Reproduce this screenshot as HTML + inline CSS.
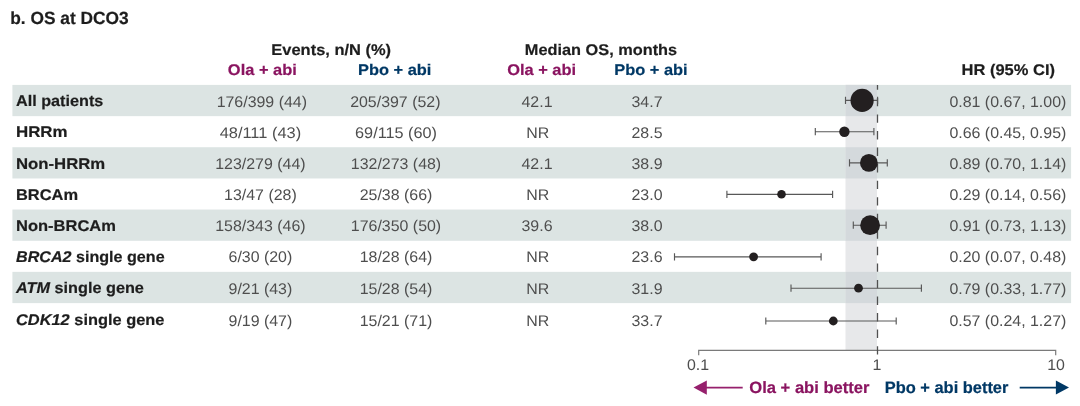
<!DOCTYPE html>
<html><head><meta charset="utf-8"><title>OS at DCO3</title>
<style>
html,body{margin:0;padding:0;background:#fff;}
body{width:1080px;height:406px;overflow:hidden;}
svg{display:block;font-family:"Liberation Sans",sans-serif;text-rendering:geometricPrecision;}
.h{font-weight:bold;font-size:15.5px;stroke-width:0.2px;}
.bf{font-size:16.4px;}
.d{font-size:15.4px;fill:#4e4e4e;}
</style></head><body>
<svg width="1080" height="406" viewBox="0 0 1080 406">

<rect x="12.4" y="84.90" width="1058.7" height="31.25" fill="#dce4e3"/>
<rect x="12.4" y="147.22" width="1058.7" height="31.25" fill="#dce4e3"/>
<rect x="12.4" y="209.54" width="1058.7" height="31.25" fill="#dce4e3"/>
<rect x="12.4" y="271.86" width="1058.7" height="31.25" fill="#dce4e3"/>
<rect x="845.5" y="84.9" width="31.5" height="265.40" fill="#e7e8ea"/>
<rect x="845.5" y="84.90" width="31.5" height="31.25" fill="#d4d9dc"/>
<rect x="845.5" y="147.22" width="31.5" height="31.25" fill="#d4d9dc"/>
<rect x="845.5" y="209.54" width="31.5" height="31.25" fill="#d4d9dc"/>
<rect x="845.5" y="271.86" width="31.5" height="31.25" fill="#d4d9dc"/>
<path d="M698.7 355.3V350.3H1055.7V355.3" fill="none" stroke="#7a7a7a" stroke-width="1.2"/>
<path d="M877.5 85V355.3" fill="none" stroke="#505050" stroke-width="1.3" stroke-dasharray="8.4 8.15" stroke-dashoffset="3.65"/>
<path d="M845.5 96.8V104.0M877.6 96.8V104.0M845.5 100.4H877.6" fill="none" stroke="#585858" stroke-width="1.15"/>
<circle cx="862.1" cy="100.4" r="11.6" fill="#231f20"/>
<path d="M815.3 128.1V135.3M873.9 128.1V135.3M815.3 131.7H873.9" fill="none" stroke="#585858" stroke-width="1.15"/>
<circle cx="844.4" cy="131.7" r="5.2" fill="#231f20"/>
<path d="M849.5 159.3V166.5M887.3 159.3V166.5M849.5 162.9H887.3" fill="none" stroke="#585858" stroke-width="1.15"/>
<circle cx="868.9" cy="162.9" r="8.9" fill="#231f20"/>
<path d="M726.9 190.7V197.9M832.6 190.7V197.9M726.9 194.3H832.6" fill="none" stroke="#585858" stroke-width="1.15"/>
<circle cx="781.5" cy="194.3" r="4.3" fill="#231f20"/>
<path d="M853.3 221.6V228.8M886.1 221.6V228.8M853.3 225.2H886.1" fill="none" stroke="#585858" stroke-width="1.15"/>
<circle cx="870.1" cy="225.2" r="9.9" fill="#231f20"/>
<path d="M674.5 253.2V260.4M821.1 253.2V260.4M674.5 256.8H821.1" fill="none" stroke="#585858" stroke-width="1.15"/>
<circle cx="753.6" cy="256.8" r="4.4" fill="#231f20"/>
<path d="M791.0 284.6V291.8M921.4 284.6V291.8M791.0 288.2H921.4" fill="none" stroke="#585858" stroke-width="1.15"/>
<circle cx="858.5" cy="288.2" r="4.4" fill="#231f20"/>
<path d="M765.8 317.4V324.6M896.2 317.4V324.6M765.8 321.0H896.2" fill="none" stroke="#585858" stroke-width="1.15"/>
<circle cx="833.3" cy="321.0" r="4.4" fill="#231f20"/>
<path d="M706 387.6H742.7" stroke="#96206d" stroke-width="1.8" fill="none"/><path d="M693.5 387.6L706.8 380.5V394.7Z" fill="#96206d"/>
<path d="M1019.7 387.6H1056.5" stroke="#003865" stroke-width="1.8" fill="none"/><path d="M1069 387.6L1055.9 380.6V394.6Z" fill="#003865"/>
<text transform="translate(10.2 24.1) scale(0.985 1)" font-weight="bold" font-size="17.6" fill="#1d1d1d" stroke="#1d1d1d" stroke-width="0.2">b. OS at DCO3</text>
<text class="h" transform="translate(331.2 55.00) scale(1.0616 1)" text-anchor="middle" fill="#1d1d1d" stroke="#1d1d1d">Events, n/N (%)</text>
<text class="h" transform="translate(601 55.00) scale(1.0529 1)" text-anchor="middle" fill="#1d1d1d" stroke="#1d1d1d">Median OS, months</text>
<text class="h" transform="translate(262.3 75.10) scale(1.0590 1)" text-anchor="middle" fill="#8a1460" stroke="#8a1460">Ola + abi</text>
<text class="h" transform="translate(394.7 75.10) scale(1.0581 1)" text-anchor="middle" fill="#003865" stroke="#003865">Pbo + abi</text>
<text class="h" transform="translate(541.6 75.10) scale(1.0590 1)" text-anchor="middle" fill="#8a1460" stroke="#8a1460">Ola + abi</text>
<text class="h" transform="translate(651 75.10) scale(1.0581 1)" text-anchor="middle" fill="#003865" stroke="#003865">Pbo + abi</text>
<text class="h" transform="translate(1055 75.10) scale(1.0638 1)" text-anchor="end" fill="#1d1d1d" stroke="#1d1d1d">HR (95% CI)</text>
<text class="h" transform="translate(16.0 106.30) scale(1.0452 1)" text-anchor="start" fill="#1d1d1d" stroke="#1d1d1d">All patients</text>
<text class="d" transform="translate(261.8 106.60) scale(1.0350 1)" text-anchor="middle">176/399 (44)</text>
<text class="d" transform="translate(395.3 106.60) scale(1.0350 1)" text-anchor="middle">205/397 (52)</text>
<text class="d" transform="translate(537 106.60) scale(1.0350 1)" text-anchor="middle">42.1</text>
<text class="d" transform="translate(647 106.60) scale(1.0350 1)" text-anchor="middle">34.7</text>
<text class="d" transform="translate(1066.3 106.60) scale(1.0350 1)" text-anchor="end">0.81 (0.67, 1.00)</text>
<text class="h" transform="translate(16.0 137.46) scale(1.0887 1)" text-anchor="start" fill="#1d1d1d" stroke="#1d1d1d">HRRm</text>
<text class="d" transform="translate(260.4 137.76) scale(1.0660 1)" text-anchor="middle">48/111 (43)</text>
<text class="d" transform="translate(396.0 137.76) scale(1.0557 1)" text-anchor="middle">69/115 (60)</text>
<text class="d" transform="translate(537.7 137.76) scale(1.0350 1)" text-anchor="middle">NR</text>
<text class="d" transform="translate(647 137.76) scale(1.0350 1)" text-anchor="middle">28.5</text>
<text class="d" transform="translate(1066.3 137.76) scale(1.0350 1)" text-anchor="end">0.66 (0.45, 0.95)</text>
<text class="h" transform="translate(16.0 168.62) scale(1.0790 1)" text-anchor="start" fill="#1d1d1d" stroke="#1d1d1d">Non-HRRm</text>
<text class="d" transform="translate(260.4 168.92) scale(1.0350 1)" text-anchor="middle">123/279 (44)</text>
<text class="d" transform="translate(396.0 168.92) scale(1.0350 1)" text-anchor="middle">132/273 (48)</text>
<text class="d" transform="translate(537 168.92) scale(1.0350 1)" text-anchor="middle">42.1</text>
<text class="d" transform="translate(647 168.92) scale(1.0350 1)" text-anchor="middle">38.9</text>
<text class="d" transform="translate(1066.3 168.92) scale(1.0350 1)" text-anchor="end">0.89 (0.70, 1.14)</text>
<text class="h" transform="translate(16.0 199.78) scale(1.0606 1)" text-anchor="start" fill="#1d1d1d" stroke="#1d1d1d">BRCAm</text>
<text class="d" transform="translate(260.4 200.08) scale(1.0350 1)" text-anchor="middle">13/47 (28)</text>
<text class="d" transform="translate(396.0 200.08) scale(1.0350 1)" text-anchor="middle">25/38 (66)</text>
<text class="d" transform="translate(537.7 200.08) scale(1.0350 1)" text-anchor="middle">NR</text>
<text class="d" transform="translate(647 200.08) scale(1.0350 1)" text-anchor="middle">23.0</text>
<text class="d" transform="translate(1066.3 200.08) scale(1.0350 1)" text-anchor="end">0.29 (0.14, 0.56)</text>
<text class="h" transform="translate(16.0 230.94) scale(1.0645 1)" text-anchor="start" fill="#1d1d1d" stroke="#1d1d1d">Non-BRCAm</text>
<text class="d" transform="translate(260.4 231.24) scale(1.0350 1)" text-anchor="middle">158/343 (46)</text>
<text class="d" transform="translate(396.0 231.24) scale(1.0350 1)" text-anchor="middle">176/350 (50)</text>
<text class="d" transform="translate(537 231.24) scale(1.0350 1)" text-anchor="middle">39.6</text>
<text class="d" transform="translate(647 231.24) scale(1.0350 1)" text-anchor="middle">38.0</text>
<text class="d" transform="translate(1066.3 231.24) scale(1.0350 1)" text-anchor="end">0.91 (0.73, 1.13)</text>
<text class="h" transform="translate(16.0 262.10) scale(1.0394 1)" text-anchor="start" fill="#1d1d1d" stroke="#1d1d1d"><tspan font-style="italic">BRCA2</tspan> single gene</text>
<text class="d" transform="translate(260.4 262.40) scale(1.0350 1)" text-anchor="middle">6/30 (20)</text>
<text class="d" transform="translate(396.0 262.40) scale(1.0350 1)" text-anchor="middle">18/28 (64)</text>
<text class="d" transform="translate(537.7 262.40) scale(1.0350 1)" text-anchor="middle">NR</text>
<text class="d" transform="translate(647 262.40) scale(1.0350 1)" text-anchor="middle">23.6</text>
<text class="d" transform="translate(1066.3 262.40) scale(1.0350 1)" text-anchor="end">0.20 (0.07, 0.48)</text>
<text class="h" transform="translate(16.0 293.26) scale(1.0481 1)" text-anchor="start" fill="#1d1d1d" stroke="#1d1d1d"><tspan font-style="italic">ATM</tspan> single gene</text>
<text class="d" transform="translate(260.4 293.56) scale(1.0350 1)" text-anchor="middle">9/21 (43)</text>
<text class="d" transform="translate(396.0 293.56) scale(1.0350 1)" text-anchor="middle">15/28 (54)</text>
<text class="d" transform="translate(537.7 293.56) scale(1.0350 1)" text-anchor="middle">NR</text>
<text class="d" transform="translate(647 293.56) scale(1.0350 1)" text-anchor="middle">31.9</text>
<text class="d" transform="translate(1066.3 293.56) scale(1.0350 1)" text-anchor="end">0.79 (0.33, 1.77)</text>
<text class="h" transform="translate(16.0 325.27) scale(1.0568 1)" text-anchor="start" fill="#1d1d1d" stroke="#1d1d1d"><tspan font-style="italic">CDK12</tspan> single gene</text>
<text class="d" transform="translate(260.4 325.57) scale(1.0350 1)" text-anchor="middle">9/19 (47)</text>
<text class="d" transform="translate(396.0 325.57) scale(1.0350 1)" text-anchor="middle">15/21 (71)</text>
<text class="d" transform="translate(537.7 325.57) scale(1.0350 1)" text-anchor="middle">NR</text>
<text class="d" transform="translate(647 325.57) scale(1.0350 1)" text-anchor="middle">33.7</text>
<text class="d" transform="translate(1066.3 325.57) scale(1.0350 1)" text-anchor="end">0.57 (0.24, 1.27)</text>
<text class="d" transform="translate(698 370.20) scale(1.0350 1)" text-anchor="middle">0.1</text>
<text class="d" transform="translate(877 370.20) scale(1.0350 1)" text-anchor="middle">1</text>
<text class="d" transform="translate(1056 370.20) scale(1.0350 1)" text-anchor="middle">10</text>
<text class="h bf" transform="translate(749.3 392.75) scale(1.0107 1)" text-anchor="start" fill="#8a1460" stroke="#8a1460">Ola + abi better</text>
<text class="h bf" transform="translate(884.7 392.75) scale(1.0024 1)" text-anchor="start" fill="#003865" stroke="#003865">Pbo + abi better</text>
</svg>
</body></html>
